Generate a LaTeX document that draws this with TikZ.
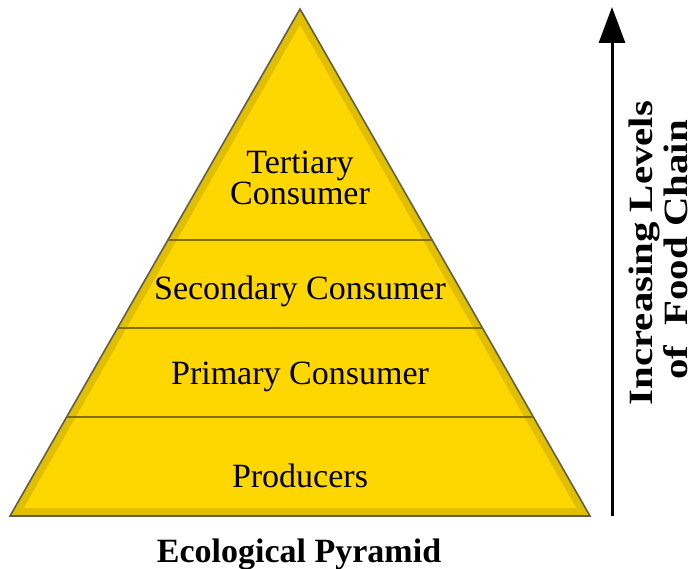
\documentclass[tikz,border=0pt]{standalone}
\usepackage{fontspec}
\setmainfont{Liberation Serif}
\usetikzlibrary{arrows.meta,calc,positioning}
\definecolor{pyrgold}{RGB}{255,215,0}
\definecolor{pyrbevel}{RGB}{224,190,0}
\definecolor{pyredge}{RGB}{100,94,70}
\definecolor{pyrline}{RGB}{130,110,0}
\tikzset{
    level text/.style  = {font=\fontsize{34}{31}\selectfont, align=center, inner sep=0pt},
    level line/.style  = {pyrline, line width=2.8pt},
    axis text/.style   = {font=\bfseries\fontsize{34}{34}\selectfont, rotate=90, xscale=1.2, anchor=base, inner sep=0pt},
    title text/.style  = {font=\bfseries\fontsize{34}{34}\selectfont, anchor=base, inner sep=0pt}
}
\begin{document}
\begin{tikzpicture}[x=1pt, y=-1pt, >={Triangle[width=26pt,length=36pt]}]
	\useasboundingbox (0,0) rectangle (694,569);
	% pyramid corners
	\coordinate (apex) at (300,9);
	\coordinate (bl) at (10,516);
	\coordinate (br) at (590,516);
	% outer body with bevel band
	\fill[pyrbevel] (apex) -- (bl) -- (br) -- cycle;
	\fill[pyrgold] (300,25) -- (23.8,508) -- (576.2,508) -- cycle;
	\draw[pyredge, line width=1.6pt, line join=miter] (apex) -- (bl) -- (br) -- cycle;
	% level borders
	\foreach \t in {0.1953,0.3708,0.5444}
		\draw[level line] ($(bl)!\t!(apex)$) -- ($(br)!\t!(apex)$);
	% level names
	\node[level text] (tertiary) at (300,178) {Tertiary\\Consumer};
	\node[level text, anchor=base] (secondary) at (300,300) {Secondary Consumer};
	\node[level text, anchor=base] (primary) at (300,385) {Primary Consumer};
	\node[level text, anchor=base] (producers) at (300,487) {Producers};
	\node[title text] (title) at (299,562) {Ecological Pyramid};
	% food chain axis
	\coordinate (axisbottom) at (612,516);
	\coordinate (axistop) at (612,7);
	\draw[->, line width=3pt] (axisbottom) -- (axistop);
	\node[axis text] (levels) at (652,253) {Increasing Levels};
	\node[axis text] (chain) at (687,250) {of\ \ Food Chain};
\end{tikzpicture}
\end{document}
